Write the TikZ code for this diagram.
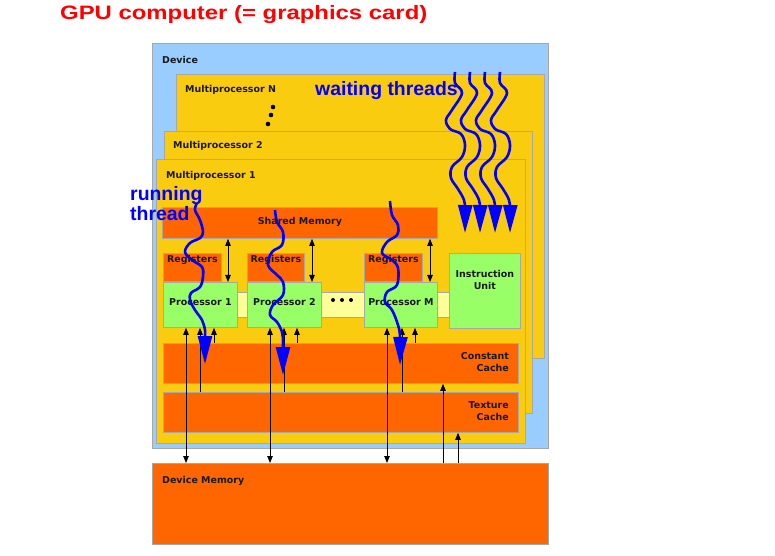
\documentclass[tikz,border=0pt]{standalone}
\usepackage{fontspec}
\setmainfont{DejaVu Sans}
\newfontfamily\arialf{Liberation Sans}
\usetikzlibrary{arrows.meta}
\definecolor{devblue}{HTML}{99CCFF}
\definecolor{mpyel}{HTML}{FACC10}
\definecolor{orng}{HTML}{FF6600}
\definecolor{grn}{HTML}{99FF66}
\definecolor{ltyel}{HTML}{FFFF99}
\definecolor{bord}{HTML}{A8A8A8}
\definecolor{txt}{HTML}{1A1A1A}
\newcommand\gbox[6]{\node[box,fill=#6,minimum width=#4bp,minimum height=#5bp] (#1) at (#2,#3) {};}
\begin{document}
\begin{tikzpicture}[x=1bp,y=-1bp,
  box/.style={draw=bord,line width=0.8bp,inner sep=0pt,anchor=north west,rectangle},
  lab/.style={font=\bfseries\fontsize{9.5}{12}\selectfont,text=txt,inner sep=0pt},
  big/.style={font=\arialf\bfseries\fontsize{19.5}{20}\selectfont,inner sep=0pt},
  bus/.style={line width=0.8bp,black},
  >={Triangle[length=7bp,width=5.5bp]},
  thread/.style={draw=blue,line width=2.6bp,line join=round,-{Triangle[length=28bp,width=14bp]}}]
\useasboundingbox (0,0) rectangle (775,556);
% title
\node[big,text=red,anchor=base west] (title) at (60,20) {\scalebox{1.23}[1]{GPU computer (= graphics card)}};
% boxes
\gbox{dev}{152}{43}{396}{405}{devblue}
\gbox{mpN}{176}{74}{368}{284}{mpyel}
\gbox{mp2}{164}{131}{368}{282}{mpyel}
\gbox{mp1}{156}{159}{369}{284}{mpyel}
\gbox{dm}{152}{463}{396}{81}{orng}
\gbox{sm}{162}{207}{275}{31}{orng}
\gbox{strip}{230}{292}{219}{25}{ltyel}
\gbox{r1}{163}{253}{58}{28}{orng}
\gbox{r2}{247}{253}{57}{28}{orng}
\gbox{rM}{364}{253}{58}{28}{orng}
\gbox{p1}{163}{282}{74}{45}{grn}
\gbox{p2}{247}{282}{74}{45}{grn}
\gbox{pM}{364}{282}{73}{45}{grn}
\gbox{iu}{449}{253}{71}{75}{grn}
\gbox{cc}{163}{343}{355}{40}{orng}
\gbox{tc}{163}{392}{355}{40}{orng}
% dots
\fill[black] (273,107) circle (2.3) (271,115) circle (2.3) (268,124) circle (2.3);
\fill[black] (333,300) circle (2) (342,300) circle (2) (351,300) circle (2);
% labels
\node[lab,anchor=base west] (tdev) at (162,64) {Device};
\node[lab,anchor=base west] (tmpN) at (185,93) {Multiprocessor N};
\node[lab,anchor=base west] (tmp2) at (173,149) {Multiprocessor 2};
\node[lab,anchor=base west] (tmp1) at (166,179) {Multiprocessor 1};
\node[lab,anchor=base] (tsm) at (sm.north |- 0,225) {Shared Memory};
\node[lab,anchor=base] (tr1) at (r1.north |- 0,263) {Registers};
\node[lab,anchor=base] (tr2) at (r2.north |- 0,263) {Registers};
\node[lab,anchor=base] (trM) at (rM.north |- 0,263) {Registers};
\node[lab,anchor=base] (tp1) at (p1.north |- 0,306) {Processor 1};
\node[lab,anchor=base] (tp2) at (p2.north |- 0,306) {Processor 2};
\node[lab,anchor=base] (tpM) at (pM.north |- 0,306) {Processor M};
\node[lab,align=center,anchor=north] (tiu) at (iu.north |- 0,270) {Instruction\\Unit};
\node[lab,align=right,anchor=north east] (tcc) at (509,352) {Constant\\Cache};
\node[lab,align=right,anchor=north east] (ttc) at (509,401) {Texture\\Cache};
\node[lab,anchor=base west] (tdm) at (162,483) {Device Memory};
% connectors
\foreach \x in {228,312,430}{
  \draw[bus,<->] (sm.south -| \x,0) -- (p1.north -| \x,0);}
\foreach \x in {186,270,387}{
  \draw[bus,<->] (p1.south -| \x,0) -- (dm.north -| \x,0);}
\foreach \x in {200,284,402}{
  \draw[bus,->] (tc.north -| \x,0) -- (p1.south -| \x,0);}
\foreach \x in {214,297,415}{
  \draw[bus,->] (cc.north -| \x,0) -- (p1.south -| \x,0);}
\draw[bus,->] (dm.north -| 443,0) -- (cc.south -| 443,0);
\draw[bus,->] (dm.north -| 458,0) -- (tc.south -| 458,0);
% text labels for threads
\node[big,text=blue,anchor=base west] (twait) at (315,96) {waiting threads};
\node[big,text=blue,align=left,anchor=north west] (trun) at (130,186) {running\\thread};
% waiting threads
\foreach \d in {0,15,30,45}{
  \draw[thread] plot[smooth,tension=0.6] coordinates {(455+\d,72) (455+\d,83) (462+\d,93) (452+\d,110) (446+\d,120) (450+\d,129) (461+\d,134) (465+\d,145) (462+\d,157) (452+\d,167) (451+\d,178) (458+\d,189) (464+\d,200) (465+\d,210) (465+\d,233)};}
% running threads
\draw[thread] plot[smooth,tension=0.6] coordinates {(197,203) (195,210) (200,220) (203,232) (200,238) (190,243) (185,252) (192,260) (202,267) (203,277) (200,287) (191,293) (190,300) (195,310) (202,320) (205,330) (205,337) (205,364)};
\draw[thread] plot[smooth,tension=0.6] coordinates {(275,210) (277,222) (283,232) (282,245) (272,252) (268,265) (277,275) (283,282) (283,295) (273,305) (270,315) (277,322) (282,332) (283,342) (283,348) (283,375)};
\draw[thread] plot[smooth,tension=0.6] coordinates {(390,201) (392,215) (398,225) (397,235) (387,242) (382,253) (392,260) (398,268) (397,285) (387,292) (385,302) (392,310) (398,325) (400,337) (400,365)};
\end{tikzpicture}
\end{document}
